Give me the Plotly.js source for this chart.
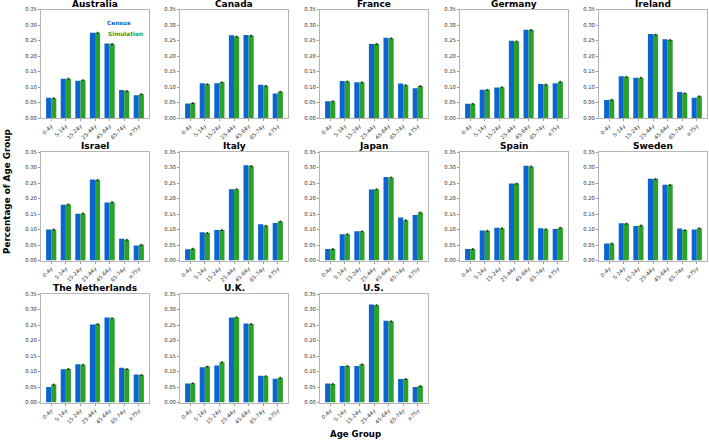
<!DOCTYPE html>
<html>
<head>
<meta charset="utf-8">
<script src="https://cdn.plot.ly/plotly-3.0.1.min.js"></script>
<style>
  html, body { margin: 0; padding: 0; background: #fff; }
  #chart { width: 709px; height: 440px; }
</style>
</head>
<body>
<div id="chart"></div>
<script>
// Age-group shares: census figures vs. simulated population, per country
const ageGroups = ['0-4y', '5-14y', '15-24y', '25-44y', '45-64y', '65-74y', '≥75y'];
const countries = ['Australia', 'Canada', 'France', 'Germany', 'Ireland',
                   'Israel', 'Italy', 'Japan', 'Spain', 'Sweden',
                   'The Netherlands', 'U.K.', 'U.S.'];

const censusAustralia   = [0.065, 0.127, 0.120, 0.275, 0.240, 0.090, 0.073];
const simAustralia      = [0.064, 0.127, 0.122, 0.275, 0.239, 0.087, 0.077];
const censusCanada      = [0.047, 0.112, 0.112, 0.267, 0.268, 0.107, 0.079];
const simCanada         = [0.048, 0.109, 0.115, 0.263, 0.266, 0.104, 0.085];
const censusFrance      = [0.054, 0.119, 0.115, 0.239, 0.259, 0.111, 0.096];
const simFrance         = [0.054, 0.118, 0.115, 0.239, 0.257, 0.106, 0.103];
const censusGermany     = [0.046, 0.091, 0.098, 0.249, 0.285, 0.110, 0.112];
const simGermany        = [0.046, 0.091, 0.099, 0.247, 0.284, 0.108, 0.117];
const censusIreland     = [0.058, 0.135, 0.130, 0.271, 0.254, 0.084, 0.065];
const simIreland        = [0.059, 0.133, 0.130, 0.269, 0.252, 0.080, 0.070];
const censusIsrael      = [0.100, 0.180, 0.151, 0.261, 0.187, 0.070, 0.048];
const simIsrael         = [0.100, 0.181, 0.152, 0.260, 0.188, 0.067, 0.051];
const censusItaly       = [0.036, 0.091, 0.098, 0.230, 0.307, 0.117, 0.121];
const simItaly          = [0.038, 0.089, 0.098, 0.230, 0.305, 0.112, 0.126];
const censusJapan       = [0.037, 0.085, 0.094, 0.229, 0.269, 0.139, 0.147];
const simJapan          = [0.037, 0.085, 0.094, 0.230, 0.268, 0.130, 0.155];
const censusSpain       = [0.037, 0.097, 0.106, 0.248, 0.306, 0.104, 0.102];
const simSpain          = [0.037, 0.096, 0.104, 0.248, 0.303, 0.101, 0.106];
const censusSweden      = [0.055, 0.120, 0.111, 0.264, 0.244, 0.103, 0.100];
const simSweden         = [0.055, 0.119, 0.113, 0.263, 0.244, 0.098, 0.104];
const censusNetherlands = [0.050, 0.107, 0.123, 0.252, 0.274, 0.112, 0.090];
const simNetherlands    = [0.058, 0.108, 0.122, 0.253, 0.272, 0.108, 0.089];
const censusUK          = [0.061, 0.114, 0.119, 0.274, 0.255, 0.086, 0.077];
const simUK             = [0.062, 0.116, 0.130, 0.275, 0.253, 0.085, 0.080];
const censusUS          = [0.061, 0.118, 0.118, 0.316, 0.264, 0.076, 0.050];
const simUS             = [0.060, 0.118, 0.123, 0.314, 0.262, 0.076, 0.053];

const censusSeries = [censusAustralia, censusCanada, censusFrance, censusGermany, censusIreland,
                      censusIsrael, censusItaly, censusJapan, censusSpain, censusSweden,
                      censusNetherlands, censusUK, censusUS];
const simSeries = [simAustralia, simCanada, simFrance, simGermany, simIreland,
                   simIsrael, simItaly, simJapan, simSpain, simSweden,
                   simNetherlands, simUK, simUS];

const yTicks = [0, 0.05, 0.10, 0.15, 0.20, 0.25, 0.30, 0.35];

const W = 709, H = 440;
const BLUE = '#0a64d4', GREEN = '#2ca02c';
const FONT = 'DejaVu Sans, sans-serif';

// panel geometry in pixels
const colLeft = [41, 180, 320, 460, 599];
const panelW = 108;
const rowTop = [9.5, 152, 294];
const panelH = 108.5;

const traces = [];
const layout = {
  width: W, height: H,
  margin: {l: 0, r: 0, t: 0, b: 0},
  paper_bgcolor: '#fff', plot_bgcolor: '#fff',
  showlegend: false,
  barmode: 'group', bargap: 0.3, bargroupgap: 0,
  font: {family: FONT, color: '#222'},
  annotations: []
};

countries.forEach((name, i) => {
  const row = Math.floor(i / 5), col = i % 5;
  const suffix = i === 0 ? '' : String(i + 1);
  const xa = 'x' + suffix, ya = 'y' + suffix;
  const x0 = colLeft[col] / W, x1 = (colLeft[col] + panelW) / W;
  const y1 = 1 - rowTop[row] / H, y0 = 1 - (rowTop[row] + panelH) / H;

  traces.push({
    type: 'bar', x: ageGroups, y: censusSeries[i], name: 'Census',
    xaxis: xa, yaxis: ya, marker: {color: BLUE, line: {width: 0}},
    hoverinfo: 'y'
  });
  traces.push({
    type: 'bar', x: ageGroups, y: simSeries[i], name: 'Simulation',
    xaxis: xa, yaxis: ya, marker: {color: GREEN, line: {width: 0}},
    error_y: {type: 'constant', value: 0.0015, color: '#000', thickness: 0.6, width: 1},
    hoverinfo: 'y'
  });

  layout['xaxis' + suffix] = {
    domain: [x0, x1], anchor: ya,
    type: 'category', range: [-0.7, 6.7],
    tickangle: -45, tickfont: {size: 5.3, family: FONT, color: '#333'},
    ticks: 'outside', ticklen: 2, tickwidth: 0.6, tickcolor: '#555',
    showline: true, mirror: true, linecolor: '#b5b5b5', linewidth: 1,
    showgrid: false, zeroline: false, fixedrange: true
  };
  layout['yaxis' + suffix] = {
    domain: [y0, y1], anchor: xa,
    range: [0, 0.35], tickvals: yTicks, tickformat: '.2f',
    tickfont: {size: 5.3, family: FONT, color: '#333'},
    ticks: 'outside', ticklen: 2, tickwidth: 0.6, tickcolor: '#555',
    showline: true, mirror: true, linecolor: '#b5b5b5', linewidth: 1,
    showgrid: false, zeroline: false, fixedrange: true
  };

  layout.annotations.push({
    text: '<b>' + name + '</b>', xref: 'paper', yref: 'paper',
    x: (x0 + x1) / 2, y: y1, xanchor: 'center', yanchor: 'bottom', yshift: -1,
    showarrow: false, font: {size: 9, family: FONT, color: '#000'}
  });
});

// legend text inside the first panel
layout.annotations.push({
  text: '<b>Census</b>', xref: 'paper', yref: 'paper',
  x: 105 / W, y: 1 - 23 / H, xanchor: 'left', yanchor: 'middle',
  showarrow: false, font: {size: 5.8, family: FONT, color: BLUE}
});
layout.annotations.push({
  text: '<b>Simulation</b>', xref: 'paper', yref: 'paper',
  x: 105.5 / W, y: 1 - 34 / H, xanchor: 'left', yanchor: 'middle',
  showarrow: false, font: {size: 5.8, family: FONT, color: GREEN}
});

// shared axis titles
layout.annotations.push({
  text: '<b>Percentage of Age Group</b>', xref: 'paper', yref: 'paper',
  x: 7 / W, y: 1 - 192 / H, xanchor: 'center', yanchor: 'middle', textangle: -90,
  showarrow: false, font: {size: 8.8, family: FONT, color: '#000'}
});
layout.annotations.push({
  text: '<b>Age Group</b>', xref: 'paper', yref: 'paper',
  x: 355 / W, y: 1 - 434 / H, xanchor: 'center', yanchor: 'middle',
  showarrow: false, font: {size: 8.6, family: FONT, color: '#000'}
});

Plotly.newPlot('chart', traces, layout, {displayModeBar: false, staticPlot: true});
</script>
</body>
</html>
